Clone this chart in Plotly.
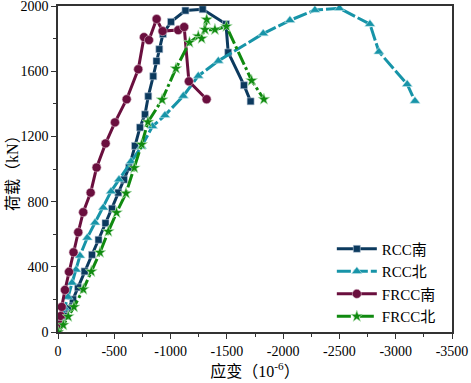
import plotly.graph_objects as go

# strain (10^-6), load (kN)
rcc_s_x = [0, -35, -62, -93, -133, -178, -236, -302, -360, -422, -480, -536, -586, -631, -684, -728, -773,
           -802, -846, -875, -900, -932, -1004, -1132, -1285, -1492, -1512, -1652, -1711]
rcc_s_y = [0, 62, 98, 145, 200, 274, 372, 474, 566, 668, 757, 855, 935, 1009, 1142, 1255, 1335,
           1446, 1569, 1662, 1735, 1828, 1903, 1972, 1980, 1889, 1715, 1514, 1415]

rcc_n_x = [0, -27, -58, -89, -124, -160, -195, -260, -329, -402, -471, -542, -648, -742, -839, -950,
           -1113, -1246, -1424, -1823, -2060, -2282, -2500, -2771, -2851, -3102, -3171]
rcc_n_y = [0, 74, 148, 215, 302, 382, 468, 578, 671, 763, 862, 935, 1046, 1138, 1262, 1329,
           1448, 1571, 1663, 1831, 1912, 1975, 1986, 1889, 1719, 1520, 1417]

frcc_s_x = [0, -18, -24, -33, -62, -98, -138, -180, -224, -290, -343, -423, -506, -610, -713, -764,
            -808, -876, -929, -1068, -1121, -1163, -1320]
frcc_s_y = [0, 45, 98, 154, 258, 369, 489, 612, 735, 855, 1009, 1157, 1286, 1428, 1612, 1809,
            1791, 1920, 1846, 1852, 1871, 1538, 1428]

frcc_n_x = [0, -47, -91, -142, -225, -296, -373, -447, -520, -604, -678, -743, -799, -925, -1048,
            -1168, -1246, -1276, -1321, -1306, -1394, -1496, -1720, -1829]
frcc_n_y = [0, 43, 95, 154, 262, 371, 488, 617, 732, 851, 1007, 1151, 1288, 1425, 1617,
            1777, 1815, 1801, 1917, 1855, 1855, 1875, 1543, 1428]

x_ticks = [0, -500, -1000, -1500, -2000, -2500, -3000, -3500]
x_tick_text = ["0", "-500", "-1000", "-1500", "-2000", "-2500", "-3000", "-3500"]
y_ticks = [0, 400, 800, 1200, 1600, 2000]

FONT = "'Liberation Serif', 'Times New Roman', 'Noto Sans CJK SC', serif"

fig = go.Figure()
fig.add_trace(go.Scatter(x=rcc_s_x, y=rcc_s_y, name="RCC南", mode="lines+markers",
                         line=dict(color="#0c3a5e", width=3),
                         marker=dict(symbol="square", size=7, color="#0c3a5e",
                                     line=dict(color="#b8c8d8", width=0.6))))
fig.add_trace(go.Scatter(x=rcc_n_x, y=rcc_n_y, name="RCC北", mode="lines+markers",
                         line=dict(color="#1794a8", width=3, dash="14px,3px"),
                         marker=dict(symbol="triangle-up", size=9, color="#1794a8",
                                     line=dict(color="#c0e4ea", width=0.6))))
fig.add_trace(go.Scatter(x=frcc_s_x, y=frcc_s_y, name="FRCC南", mode="lines+markers",
                         line=dict(color="#6a0f3e", width=3),
                         marker=dict(symbol="circle", size=9, color="#6a0f3e",
                                     line=dict(color="#d8b8c8", width=0.6))))
fig.add_trace(go.Scatter(x=frcc_n_x, y=frcc_n_y, name="FRCC北", mode="lines+markers",
                         line=dict(color="#108a10", width=3, dash="14px,3px,3px,3px"),
                         marker=dict(symbol="star", size=9, color="#108a10",
                                     line=dict(color="#bfe8bf", width=0.6))))

fig.update_layout(
    width=471, height=383,
    margin=dict(l=58, r=19, t=6, b=51),
    paper_bgcolor="white", plot_bgcolor="white",
    font=dict(family=FONT, size=14, color="black"),
    showlegend=True,
    legend=dict(x=0.695, y=0.305, xanchor="left", yanchor="top",
                font=dict(family=FONT, size=15, color="black"),
                bgcolor="rgba(0,0,0,0)", borderwidth=0, tracegroupgap=0,
                itemwidth=40),
    annotations=[dict(text="荷载（kN）", textangle=-90, xref="paper", yref="paper",
                      x=-0.117, y=0.5, xanchor="center", yanchor="middle",
                      showarrow=False, font=dict(family=FONT, size=16, color="black"))],
)
fig.update_xaxes(
    range=[0, -3500], tickvals=x_ticks, ticktext=x_tick_text, automargin=False,
    ticklabeloverflow="allow",
    showgrid=False, zeroline=False,
    showline=True, linecolor="#333", linewidth=1.5, mirror=True,
    ticks="outside", ticklen=5, tickwidth=1.2, tickcolor="#333",
    tickfont=dict(family=FONT, size=14),
    minor=dict(dtick=250, ticks="outside", ticklen=3, tickwidth=1, tickcolor="#333"),
    title=dict(text="应变（10<sup>-6</sup>）", font=dict(family=FONT, size=16), standoff=8),
)
fig.update_yaxes(
    range=[0, 2000], tickvals=y_ticks, automargin=False,
    ticklabeloverflow="allow",
    showgrid=False, zeroline=False,
    showline=True, linecolor="#333", linewidth=1.5, mirror=True,
    ticks="outside", ticklen=5, tickwidth=1.2, tickcolor="#333",
    tickfont=dict(family=FONT, size=14),
    minor=dict(dtick=200, ticks="outside", ticklen=3, tickwidth=1, tickcolor="#333"),
)

fig.write_html("out.html", config={"displayModeBar": False},
               post_script="document.body.style.margin='0';document.body.style.padding='0';")
